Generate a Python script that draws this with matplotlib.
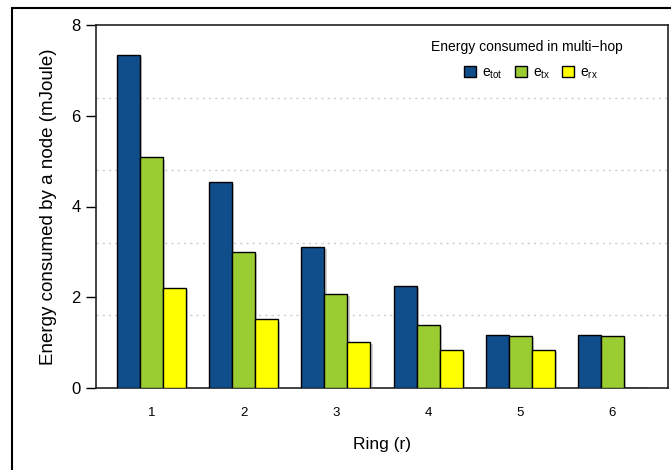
import numpy as np
import matplotlib
matplotlib.use("Agg")
import matplotlib.pyplot as plt
import matplotlib.patheffects as pe
from matplotlib.patches import Rectangle, Patch

plt.rcParams['font.family'] = ['Liberation Sans', 'DejaVu Sans']
plt.rcParams['mathtext.fontset'] = 'custom'
plt.rcParams['mathtext.rm'] = 'Liberation Sans'
plt.rcParams['mathtext.it'] = 'Liberation Sans'

rings = ['1', '2', '3', '4', '5', '6']
e_tot = [7.33, 4.55, 3.11, 2.25, 1.16, 1.16]
e_tx = [5.08, 2.99, 2.07, 1.38, 1.15, 1.15]
e_rx = [2.20, 1.51, 1.01, 0.84, 0.84, 0.0]
series_labels = [r'$\mathregular{e_{tot}}$', r'$\mathregular{e_{tx}}$', r'$\mathregular{e_{rx}}$']
colors = ['#104E8B', '#9ACD32', '#FFFF00']
grid_levels = [1.6, 3.2, 4.8, 6.4]

fig = plt.figure(figsize=(6.71, 4.70), dpi=100)
ax = fig.add_axes([96 / 671, 1 - 388 / 470, 572 / 671, 363 / 470])

# R barplot style layout: bar width 1, one bar gap between groups
group_start = 1 + 4 * np.arange(len(rings))
shadow = [pe.SimplePatchShadow(offset=(1.5, -1.5), shadow_rgbFace='grey', alpha=0.35), pe.Normal()]
for k, vals in enumerate([e_tot, e_tx, e_rx]):
    bars = ax.bar(group_start + k + 0.5, vals, width=1.0, color=colors[k],
                  edgecolor='black', linewidth=1.0, zorder=3)
    for b in bars:
        b.set_path_effects(shadow)

for g in grid_levels:
    ax.axhline(g, color='#cccccc', linestyle=(0, (1.5, 3)), linewidth=1.0, zorder=1)

ax.set_xlim(0.08, 24.92)
ax.set_ylim(0, 8)
ax.set_xticks(group_start + 1.5)
ax.set_xticklabels(rings, fontsize=9.5)
ax.tick_params(axis='x', length=0, pad=14)
ax.set_yticks([0, 2, 4, 6, 8])
ax.tick_params(axis='y', length=7, width=1.0, labelsize=12, pad=4, direction='out')
for s in ax.spines.values():
    s.set_linewidth(1.2)
    s.set_color('#222222')

ax.set_xlabel('Ring (r)', fontsize=12.5, labelpad=13)
ax.set_ylabel('Energy consumed by a node (mJoule)', fontsize=13.5, labelpad=10)

# legend: title and entries placed separately (R style spacing)
fig.text(527 / 671, 1 - 47 / 470, 'Energy consumed in multi\u2212hop', fontsize=10,
         ha='center', va='center')
handles = [Patch(facecolor=c, edgecolor='black', linewidth=1.0) for c in colors]
fig.legend(handles, series_labels, loc='center', bbox_to_anchor=(531 / 671, 1 - 73 / 470),
           ncol=3, frameon=False, fontsize=10, handlelength=0.85, handleheight=0.75,
           handletextpad=0.45, columnspacing=0.85, borderaxespad=0, borderpad=0)

# outer frame around the figure
fig.patches.append(Rectangle((12 / 671, -0.05), 1.1, 1 - 8 / 470 + 0.05,
                             transform=fig.transFigure, fill=False,
                             edgecolor='black', linewidth=1.5))

fig.savefig('out.png', dpi=100)
